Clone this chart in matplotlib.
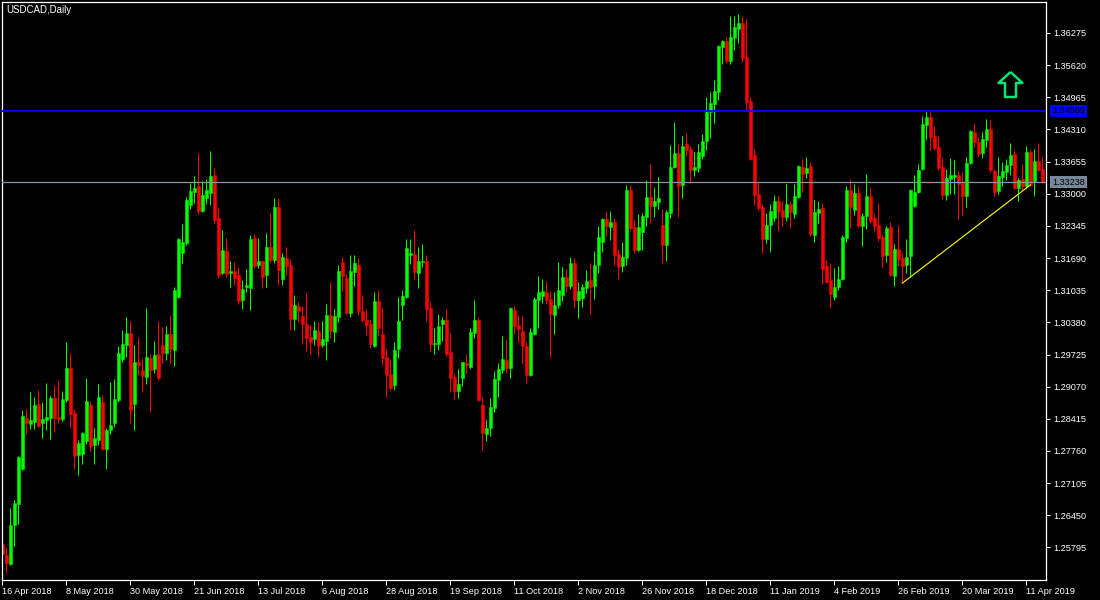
import numpy as np
import matplotlib.pyplot as plt
from matplotlib.path import Path

plt.rcParams['font.family'] = ['Liberation Sans', 'DejaVu Sans']

title = "USDCAD,Daily"

opens = [
  1.2586, 1.2565, 1.2545, 1.2626, 1.2669, 1.2740, 1.2844, 1.2830, 1.2836, 1.2871,
  1.2832, 1.2840, 1.2844, 1.2883, 1.2846, 1.2842, 1.2879, 1.2946, 1.2853, 1.2767,
  1.2769, 1.2797, 1.2869, 1.2789, 1.2799, 1.2875, 1.2781, 1.2818, 1.2834, 1.2879,
  1.2963, 1.2991, 1.3016, 1.2871, 1.2957, 1.2940, 1.2926, 1.2965, 1.2943, 1.2973,
  1.2991, 1.2975, 1.3014, 1.2981, 1.3090, 1.3179, 1.3199, 1.3277, 1.3303, 1.3316,
  1.3265, 1.3291, 1.3301, 1.3338, 1.3251, 1.3138, 1.3183, 1.3138, 1.3142, 1.3134,
  1.3083, 1.3110, 1.3108, 1.3210, 1.3155, 1.3163, 1.3134, 1.3191, 1.3165, 1.3273,
  1.3126, 1.3169, 1.3155, 1.3044, 1.3071, 1.3050, 1.3034, 1.3008, 1.3004, 1.3020,
  1.2991, 1.3001, 1.3053, 1.3018, 1.3048, 1.3161, 1.3128, 1.3057, 1.3140, 1.3155,
  1.3061, 1.3042, 1.3034, 1.2989, 1.3081, 1.3014, 1.2967, 1.2932, 1.2910, 1.2983,
  1.3073, 1.3089, 1.3175, 1.3177, 1.3138, 1.3161, 1.3163, 1.3067, 1.2993, 1.2993,
  1.3034, 1.3042, 1.2977, 1.2926, 1.2899, 1.2924, 1.2955, 1.2947, 1.3016, 1.3042,
  1.2869, 1.2810, 1.2822, 1.2863, 1.2920, 1.2940, 1.2961, 1.2945, 1.3063, 1.3032,
  1.3020, 1.2989, 1.2930, 1.3014, 1.3083, 1.3091, 1.3099, 1.3085, 1.3053, 1.3073,
  1.3093, 1.3130, 1.3112, 1.3159, 1.3083, 1.3087, 1.3108, 1.3124, 1.3112, 1.3155,
  1.3201, 1.3248, 1.3232, 1.3242, 1.3177, 1.3153, 1.3169, 1.3307, 1.3232, 1.3185,
  1.3222, 1.3253, 1.3293, 1.3275, 1.3283, 1.3236, 1.3195, 1.3261, 1.3354, 1.3383,
  1.3318, 1.3401, 1.3391, 1.3348, 1.3352, 1.3377, 1.3407, 1.3467, 1.3483, 1.3507,
  1.3599, 1.3611, 1.3571, 1.3617, 1.3636, 1.3648, 1.3579, 1.3489, 1.3379, 1.3299,
  1.3273, 1.3208, 1.3236, 1.3251, 1.3285, 1.3267, 1.3253, 1.3279, 1.3259, 1.3293,
  1.3354, 1.3342, 1.3356, 1.3216, 1.3261, 1.3271, 1.3153, 1.3124, 1.3089, 1.3110,
  1.3126, 1.3210, 1.3307, 1.3267, 1.3301, 1.3234, 1.3255, 1.3295, 1.3251, 1.3236,
  1.3212, 1.3175, 1.3232, 1.3132, 1.3187, 1.3169, 1.3155, 1.3173, 1.3275, 1.3303,
  1.3350, 1.3440, 1.3456, 1.3418, 1.3395, 1.3354, 1.3297, 1.3330, 1.3334, 1.3338,
  1.3322, 1.3295, 1.3363, 1.3426, 1.3405, 1.3383, 1.3409, 1.3432, 1.3346, 1.3305,
  1.3334, 1.3344, 1.3358, 1.3381, 1.3312, 1.3330, 1.3316, 1.3385, 1.3326, 1.3367,
  1.3350,
]
highs = [
  1.2594, 1.2580, 1.2659, 1.2677, 1.2765, 1.2859, 1.2861, 1.2897, 1.2885, 1.2901,
  1.2875, 1.2914, 1.2887, 1.2910, 1.2918, 1.2899, 1.2997, 1.2975, 1.2861, 1.2799,
  1.2814, 1.2924, 1.2877, 1.2822, 1.2912, 1.2891, 1.2822, 1.2916, 1.2922, 1.2989,
  1.3022, 1.3048, 1.3040, 1.2991, 1.3008, 1.2965, 1.3067, 1.2973, 1.3001, 1.3040,
  1.3028, 1.3030, 1.3053, 1.3110, 1.3210, 1.3238, 1.3293, 1.3322, 1.3336, 1.3383,
  1.3326, 1.3330, 1.3387, 1.3352, 1.3271, 1.3226, 1.3210, 1.3163, 1.3161, 1.3151,
  1.3124, 1.3146, 1.3216, 1.3218, 1.3210, 1.3165, 1.3220, 1.3261, 1.3291, 1.3291,
  1.3179, 1.3191, 1.3167, 1.3093, 1.3079, 1.3071, 1.3097, 1.3032, 1.3040, 1.3038,
  1.3040, 1.3075, 1.3120, 1.3065, 1.3155, 1.3171, 1.3136, 1.3175, 1.3175, 1.3169,
  1.3093, 1.3065, 1.3044, 1.3099, 1.3103, 1.3067, 1.2983, 1.2963, 1.2999, 1.3089,
  1.3103, 1.3208, 1.3208, 1.3226, 1.3191, 1.3197, 1.3175, 1.3079, 1.3026, 1.3055,
  1.3048, 1.3065, 1.3016, 1.2932, 1.2943, 1.2957, 1.2973, 1.3026, 1.3083, 1.3048,
  1.2885, 1.2840, 1.2883, 1.2938, 1.2955, 1.3010, 1.3004, 1.3069, 1.3071, 1.3053,
  1.3050, 1.2999, 1.3026, 1.3089, 1.3132, 1.3126, 1.3122, 1.3101, 1.3099, 1.3161,
  1.3151, 1.3146, 1.3171, 1.3169, 1.3120, 1.3116, 1.3144, 1.3159, 1.3183, 1.3234,
  1.3251, 1.3265, 1.3265, 1.3251, 1.3187, 1.3201, 1.3318, 1.3318, 1.3246, 1.3259,
  1.3261, 1.3328, 1.3361, 1.3314, 1.3334, 1.3269, 1.3267, 1.3399, 1.3446, 1.3401,
  1.3418, 1.3424, 1.3397, 1.3385, 1.3401, 1.3422, 1.3497, 1.3507, 1.3532, 1.3603,
  1.3613, 1.3619, 1.3662, 1.3662, 1.3666, 1.3662, 1.3656, 1.3497, 1.3391, 1.3324,
  1.3279, 1.3261, 1.3279, 1.3297, 1.3295, 1.3285, 1.3320, 1.3285, 1.3320, 1.3358,
  1.3371, 1.3375, 1.3363, 1.3287, 1.3285, 1.3281, 1.3165, 1.3159, 1.3149, 1.3153,
  1.3216, 1.3316, 1.3330, 1.3320, 1.3316, 1.3261, 1.3340, 1.3314, 1.3259, 1.3281,
  1.3216, 1.3234, 1.3242, 1.3197, 1.3236, 1.3179, 1.3208, 1.3309, 1.3338, 1.3361,
  1.3458, 1.3469, 1.3467, 1.3438, 1.3418, 1.3373, 1.3350, 1.3373, 1.3369, 1.3346,
  1.3344, 1.3375, 1.3430, 1.3444, 1.3416, 1.3426, 1.3452, 1.3450, 1.3350, 1.3375,
  1.3365, 1.3371, 1.3403, 1.3389, 1.3332, 1.3361, 1.3397, 1.3389, 1.3391, 1.3403,
  1.3375,
]
lows = [
  1.2563, 1.2527, 1.2543, 1.2583, 1.2628, 1.2738, 1.2810, 1.2820, 1.2820, 1.2824,
  1.2803, 1.2818, 1.2801, 1.2814, 1.2834, 1.2838, 1.2875, 1.2824, 1.2740, 1.2728,
  1.2749, 1.2791, 1.2775, 1.2749, 1.2789, 1.2779, 1.2740, 1.2810, 1.2824, 1.2875,
  1.2957, 1.2967, 1.2834, 1.2818, 1.2930, 1.2897, 1.2912, 1.2855, 1.2935, 1.2920,
  1.2955, 1.2961, 1.2955, 1.2949, 1.3088, 1.3159, 1.3195, 1.3269, 1.3281, 1.3259,
  1.3263, 1.3279, 1.3277, 1.3240, 1.3128, 1.3136, 1.3130, 1.3110, 1.3114, 1.3075,
  1.3065, 1.3099, 1.3063, 1.3149, 1.3149, 1.3108, 1.3110, 1.3161, 1.3159, 1.3114,
  1.3114, 1.3134, 1.3022, 1.3022, 1.3038, 1.2993, 1.2979, 1.2973, 1.2991, 1.2967,
  1.2987, 1.2961, 1.3006, 1.2997, 1.3038, 1.3101, 1.3055, 1.3048, 1.3112, 1.3053,
  1.3038, 1.3012, 1.2985, 1.2987, 1.3010, 1.2951, 1.2885, 1.2901, 1.2901, 1.2965,
  1.3042, 1.3087, 1.3157, 1.3126, 1.3108, 1.3151, 1.3040, 1.2979, 1.2973, 1.2981,
  1.3001, 1.2969, 1.2897, 1.2881, 1.2883, 1.2908, 1.2935, 1.2943, 1.3006, 1.2877,
  1.2779, 1.2797, 1.2806, 1.2855, 1.2885, 1.2935, 1.2935, 1.2924, 1.3014, 1.2999,
  1.2953, 1.2914, 1.2928, 1.3012, 1.3026, 1.3077, 1.3075, 1.2967, 1.3014, 1.3067,
  1.3081, 1.3099, 1.3105, 1.3067, 1.3046, 1.3069, 1.3097, 1.3055, 1.3085, 1.3138,
  1.3181, 1.3214, 1.3205, 1.3155, 1.3126, 1.3140, 1.3155, 1.3226, 1.3179, 1.3183,
  1.3185, 1.3234, 1.3240, 1.3253, 1.3269, 1.3159, 1.3163, 1.3251, 1.3352, 1.3253,
  1.3291, 1.3377, 1.3322, 1.3336, 1.3344, 1.3371, 1.3389, 1.3413, 1.3444, 1.3491,
  1.3565, 1.3567, 1.3565, 1.3593, 1.3607, 1.3569, 1.3471, 1.3369, 1.3277, 1.3267,
  1.3179, 1.3199, 1.3181, 1.3244, 1.3224, 1.3234, 1.3244, 1.3230, 1.3251, 1.3291,
  1.3303, 1.3332, 1.3214, 1.3201, 1.3240, 1.3116, 1.3118, 1.3067, 1.3083, 1.3103,
  1.3124, 1.3201, 1.3230, 1.3257, 1.3232, 1.3193, 1.3228, 1.3240, 1.3224, 1.3203,
  1.3149, 1.3161, 1.3132, 1.3112, 1.3153, 1.3118, 1.3138, 1.3130, 1.3273, 1.3301,
  1.3348, 1.3411, 1.3389, 1.3389, 1.3348, 1.3289, 1.3287, 1.3299, 1.3299, 1.3248,
  1.3257, 1.3273, 1.3361, 1.3395, 1.3375, 1.3373, 1.3395, 1.3344, 1.3295, 1.3299,
  1.3316, 1.3328, 1.3338, 1.3310, 1.3285, 1.3307, 1.3312, 1.3316, 1.3295, 1.3346,
  1.3322,
]
closes = [
  1.2567, 1.2547, 1.2626, 1.2671, 1.2763, 1.2848, 1.2832, 1.2840, 1.2869, 1.2826,
  1.2842, 1.2846, 1.2883, 1.2844, 1.2842, 1.2881, 1.2946, 1.2851, 1.2765, 1.2793,
  1.2812, 1.2877, 1.2787, 1.2803, 1.2885, 1.2781, 1.2818, 1.2828, 1.2881, 1.2975,
  1.2993, 1.3016, 1.2859, 1.2957, 1.2951, 1.2928, 1.2967, 1.2940, 1.2971, 1.2924,
  1.2975, 1.3014, 1.2984, 1.3103, 1.3208, 1.3201, 1.3287, 1.3305, 1.3312, 1.3265,
  1.3297, 1.3307, 1.3336, 1.3246, 1.3134, 1.3185, 1.3136, 1.3142, 1.3128, 1.3081,
  1.3105, 1.3114, 1.3208, 1.3153, 1.3163, 1.3130, 1.3191, 1.3165, 1.3273, 1.3144,
  1.3171, 1.3153, 1.3044, 1.3073, 1.3061, 1.3034, 1.3006, 1.2999, 1.3022, 1.2989,
  1.3004, 1.3053, 1.3020, 1.3050, 1.3142, 1.3132, 1.3057, 1.3142, 1.3159, 1.3061,
  1.3042, 1.3032, 1.2993, 1.3081, 1.3026, 1.2965, 1.2930, 1.2905, 1.2981, 1.3040,
  1.3091, 1.3189, 1.3179, 1.3140, 1.3163, 1.3163, 1.3065, 1.2993, 1.2995, 1.3030,
  1.3042, 1.2973, 1.2924, 1.2899, 1.2912, 1.2957, 1.2951, 1.3018, 1.3042, 1.2879,
  1.2812, 1.2822, 1.2865, 1.2922, 1.2943, 1.2963, 1.2945, 1.3067, 1.3030, 1.3024,
  1.2989, 1.2930, 1.3018, 1.3085, 1.3099, 1.3101, 1.3083, 1.3055, 1.3073, 1.3103,
  1.3130, 1.3112, 1.3159, 1.3083, 1.3101, 1.3110, 1.3122, 1.3110, 1.3155, 1.3212,
  1.3248, 1.3234, 1.3242, 1.3175, 1.3151, 1.3171, 1.3307, 1.3230, 1.3185, 1.3232,
  1.3255, 1.3293, 1.3275, 1.3285, 1.3291, 1.3195, 1.3263, 1.3354, 1.3383, 1.3316,
  1.3397, 1.3389, 1.3348, 1.3354, 1.3385, 1.3407, 1.3467, 1.3485, 1.3509, 1.3601,
  1.3611, 1.3571, 1.3619, 1.3640, 1.3648, 1.3577, 1.3487, 1.3371, 1.3297, 1.3271,
  1.3208, 1.3236, 1.3265, 1.3285, 1.3265, 1.3253, 1.3279, 1.3263, 1.3295, 1.3356,
  1.3340, 1.3352, 1.3218, 1.3263, 1.3269, 1.3146, 1.3120, 1.3095, 1.3110, 1.3126,
  1.3212, 1.3307, 1.3273, 1.3301, 1.3234, 1.3255, 1.3295, 1.3244, 1.3234, 1.3210,
  1.3173, 1.3230, 1.3134, 1.3187, 1.3167, 1.3153, 1.3171, 1.3307, 1.3303, 1.3348,
  1.3442, 1.3456, 1.3416, 1.3393, 1.3352, 1.3297, 1.3332, 1.3338, 1.3338, 1.3320,
  1.3295, 1.3363, 1.3428, 1.3405, 1.3381, 1.3411, 1.3432, 1.3348, 1.3303, 1.3336,
  1.3346, 1.3358, 1.3379, 1.3312, 1.3328, 1.3316, 1.3385, 1.3318, 1.3367, 1.3348,
  1.3324,
]

date_labels = ["16 Apr 2018", "8 May 2018", "30 May 2018", "21 Jun 2018", "13 Jul 2018",
               "6 Aug 2018", "28 Aug 2018", "19 Sep 2018", "11 Oct 2018", "2 Nov 2018",
               "26 Nov 2018", "18 Dec 2018", "11 Jan 2019", "4 Feb 2019", "26 Feb 2019",
               "20 Mar 2019", "11 Apr 2019"]
price_ticks = [1.25795, 1.26450, 1.27105, 1.27760, 1.28415, 1.29070, 1.29725, 1.30380,
               1.31035, 1.31690, 1.32345, 1.33000, 1.33655, 1.34310, 1.34965, 1.35620, 1.36275]

level_line = 1.34689
bid_line = 1.33238
trend_bars = [225, 257]
trend_prices = [1.3118, 1.3318]
arrow_bar = 252
arrow_price = 1.3523

W, H = 1100, 600
fig = plt.figure(figsize=(W / 100, H / 100), dpi=100, facecolor='black')
ax = fig.add_axes([2 / W, 20 / H, 1044 / W, 578 / H], facecolor='black')

o = np.array(opens)
h = np.array(highs)
l = np.array(lows)
c = np.array(closes)
x = np.arange(len(o))
cols = np.where(c >= o, '#00ff00', '#ff0000')

ax.vlines(x, l, h, colors=cols, linewidth=0.72, zorder=2)
ax.bar(x, np.abs(c - o), bottom=np.minimum(o, c), width=0.6, color=cols,
       edgecolor=cols, linewidth=0.36, zorder=2)

ax.axhline(level_line, color='#0000ff', linewidth=1.3, zorder=3)
ax.axhline(bid_line, color='#8a96a3', linewidth=0.9, zorder=3)
ax.plot(trend_bars, trend_prices, color='#ffff00', linewidth=0.8, zorder=3)

# up arrow object
arrow = Path([(0, 12.5), (12, 1.5), (5.5, 1.5), (5.5, -12.5), (-5.5, -12.5),
              (-5.5, 1.5), (-12, 1.5), (0, 12.5)])
ax.plot([arrow_bar], [arrow_price], marker=arrow, markersize=18, mfc='none',
        mec='#00e676', mew=1.8, zorder=4)

ax.set_xlim(-0.075, 260.9)
ax.set_ylim(1.25132, 1.36906)

ax.set_xticks(np.arange(len(date_labels)) * 16, labels=date_labels)
for t in ax.get_xticklabels():
  t.set_ha('left')
ax.yaxis.tick_right()
ax.set_yticks(price_ticks, labels=[f"{p:.5f}" for p in price_ticks])
ax.tick_params(axis='x', colors='white', direction='out', length=3.5, width=0.72,
               pad=1.5, labelsize=6.6)
ax.tick_params(axis='y', colors='white', direction='out', length=3, width=0.72,
               pad=2, labelsize=6.6)
for s in ax.spines.values():
  s.set_color('white')
  s.set_linewidth(0.9)

for val, bg in [(level_line, '#0000ff'), (bid_line, '#778899')]:
  ax.annotate(f"{val:.5f}", xy=(1, val), xycoords=('axes fraction', 'data'),
              xytext=(6, 0), textcoords='offset pixels', va='center', ha='left',
              fontsize=6.6, color='black',
              bbox=dict(boxstyle='square,pad=0.2', fc=bg, ec='none'),
              annotation_clip=False)

fig.text(6 / W, 1 - 10 / H, title, color='white', fontsize=7, va='center', ha='left')

fig.savefig('out.png', dpi=100, facecolor='black')
